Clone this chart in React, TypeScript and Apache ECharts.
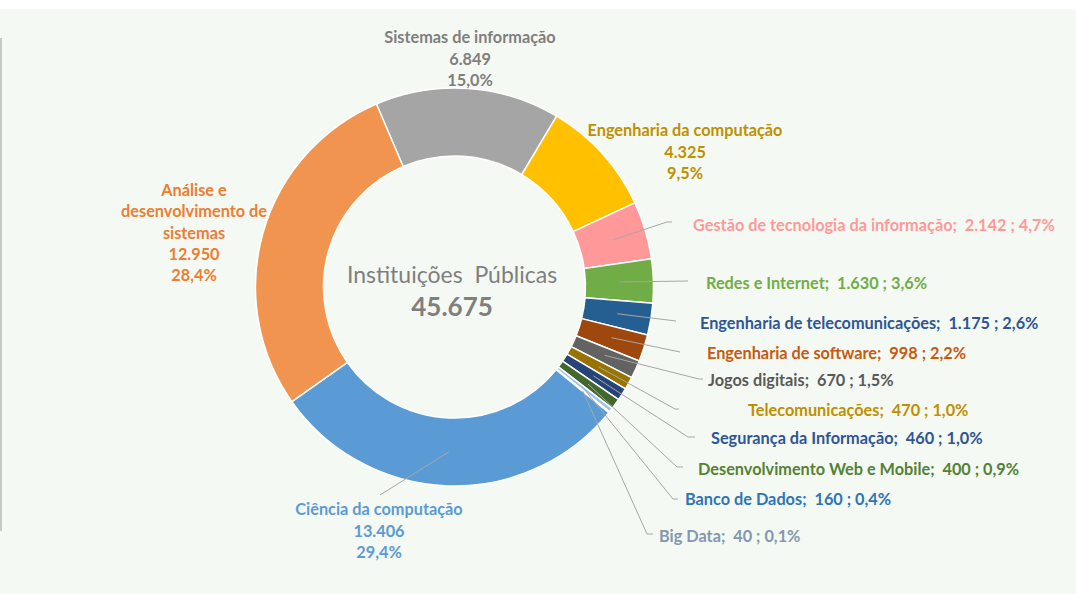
import React, { useEffect, useRef } from 'react';
import * as echarts from 'echarts';

// ---------- data ----------
const categories = [
  'Sistemas de informação',
  'Engenharia da computação',
  'Gestão de tecnologia da informação',
  'Redes e Internet',
  'Engenharia de telecomunicações',
  'Engenharia de software',
  'Jogos digitais',
  'Telecomunicações',
  'Segurança da Informação',
  'Desenvolvimento Web e Mobile',
  'Banco de Dados',
  'Big Data',
  'Ciência da computação',
  'Análise e desenvolvimento de sistemas',
];
const values = [6849, 4325, 2142, 1630, 1175, 998, 670, 470, 460, 400, 160, 40, 13406, 12950];
const centerTitle = 'Instituições  Públicas';

const sliceColors = [
  '#A5A5A5', '#FFC000', '#FF9999', '#70AD47', '#255E91', '#9E480E', '#636363',
  '#997300', '#264478', '#43682B', '#9DC3E6', '#BDD7EE', '#5B9BD5', '#F0944F',
];
const labelColors = [
  '#7F7F7F', '#BF9000', '#FF9999', '#70AD47', '#2F5597', '#C55A11', '#595959',
  '#BF9000', '#2F5597', '#548235', '#2E75B6', '#8497B0', '#5B9BD5', '#ED7D31',
];
// label style: 'stack' = name / value / percent on separate lines, 'inline' = "name;  value ; pct"
const labelKinds = [
  'stack', 'stack', 'inline', 'inline', 'inline', 'inline', 'inline',
  'inline', 'inline', 'inline', 'inline', 'inline', 'stack', 'stack',
];
const wrappedNames: Record<string, string> = {
  'Análise e desenvolvimento de sistemas': 'Análise e\ndesenvolvimento de\nsistemas',
};

// ---------- layout ----------
const W = 1076;
const H = 594;
const CX = 454.5;
const CY = 287;
const R_IN = 131;
const R_OUT = 199;
const R_MID = 165;
const START_ANGLE = 113.1;
const FONT = 'Lato';

type LabelPos = { x: number; y: number; align: string; elbow?: number[]; end?: number[] };
const labelPositions: LabelPos[] = [
  { x: 470, y: 58, align: 'center' },
  { x: 685, y: 151, align: 'center' },
  { x: 693, y: 224, align: 'left', elbow: [667, 222], end: [672, 222] },
  { x: 706, y: 282, align: 'left', elbow: [688, 281], end: [688, 281] },
  { x: 700, y: 322, align: 'left', elbow: [676, 321], end: [676, 321] },
  { x: 707, y: 352, align: 'left', elbow: [680, 352], end: [680, 352] },
  { x: 708, y: 379, align: 'left', elbow: [699, 379], end: [703, 379] },
  { x: 748, y: 409, align: 'left', elbow: [675, 409], end: [679, 409] },
  { x: 711, y: 437, align: 'left', elbow: [688, 437], end: [695, 437] },
  { x: 698, y: 468, align: 'left', elbow: [677, 467], end: [683, 467] },
  { x: 685, y: 498, align: 'left', elbow: [673, 499], end: [678, 499] },
  { x: 659, y: 535, align: 'left', elbow: [647, 534], end: [653, 534] },
  { x: 379, y: 530, align: 'center', elbow: [380, 495], end: [380, 495] },
  { x: 194, y: 232, align: 'center' },
];

function fmtThousands(v: number): string {
  return String(v).replace(/\B(?=(\d{3})+(?!\d))/g, '.');
}

export default function App() {
  const ref = useRef<HTMLDivElement>(null);

  useEffect(() => {
    document.body.style.margin = '0';
    if (!ref.current) return;
    const chart = echarts.init(ref.current, undefined, { renderer: 'svg' });
    const total = values.reduce((a, b) => a + b, 0);
    const pct = (v: number) => (v / total * 100).toFixed(1).replace('.', ',') + '%';

    // start of each leader line: middle of the ring band at the slice's mid angle
    const lineStarts: number[][] = [];
    let cum = 0;
    values.forEach((v) => {
      const midDeg = START_ANGLE - 360 * (cum + v / 2) / total;
      const rad = (midDeg * Math.PI) / 180;
      lineStarts.push([CX + R_MID * Math.cos(rad), CY - R_MID * Math.sin(rad)]);
      cum += v;
    });

    const leaderLines = labelPositions
      .map((L, i) => (L.end ? {
        type: 'polyline',
        z: 50,
        silent: true,
        shape: { points: [lineStarts[i], L.elbow, L.end] },
        style: { stroke: '#A6A6A6', lineWidth: 1, fill: null },
      } : null))
      .filter(Boolean);

    const data = categories.map((name, i) => {
      const kind = labelKinds[i];
      const text = kind === 'stack'
        ? `${wrappedNames[name] || name}\n${fmtThousands(values[i])}\n${pct(values[i])}`
        : `${name};  ${fmtThousands(values[i])} ; ${pct(values[i])}`;
      return {
        name,
        value: values[i],
        itemStyle: { color: sliceColors[i] },
        label: {
          formatter: text,
          color: labelColors[i],
          align: labelPositions[i].align,
          lineHeight: 21.3,
        },
      };
    });

    chart.setOption({
      animation: false,
      backgroundColor: '#FFFFFF',
      graphic: [
        { type: 'rect', z: -10, shape: { x: 0, y: 9, width: W, height: H - 9 }, style: { fill: '#F5F9F3' } },
        { type: 'rect', z: -9, shape: { x: 0, y: 38, width: 2, height: 493 }, style: { fill: '#C8C8C8' } },
        {
          type: 'text', x: 452, y: 274, z: 5,
          style: {
            text: centerTitle, align: 'center', verticalAlign: 'middle',
            fontFamily: FONT, fontSize: 23, fill: '#7F7F7F',
          },
        },
        {
          type: 'text', x: 452, y: 306, z: 5,
          style: {
            text: fmtThousands(total), align: 'center', verticalAlign: 'middle',
            fontFamily: FONT, fontSize: 26, fontWeight: 'bold', fill: '#7F7F7F',
          },
        },
        ...leaderLines,
      ],
      series: [
        {
          type: 'pie',
          center: [CX, CY],
          radius: [R_IN, R_OUT],
          startAngle: START_ANGLE,
          clockwise: true,
          avoidLabelOverlap: false,
          itemStyle: { borderColor: '#FFFFFF', borderWidth: 1.5 },
          label: {
            show: true,
            position: 'outside',
            fontFamily: FONT,
            fontSize: 16.3,
            fontWeight: 'bold',
          },
          labelLine: { show: false },
          emphasis: { disabled: true },
          labelLayout: (p: any) => {
            const L = labelPositions[p.dataIndex];
            return { x: L.x, y: L.y, align: L.align, verticalAlign: 'middle' };
          },
          data,
        },
      ],
    });
    return () => chart.dispose();
  }, []);

  return <div ref={ref} style={{ width: W, height: H }} />;
}
